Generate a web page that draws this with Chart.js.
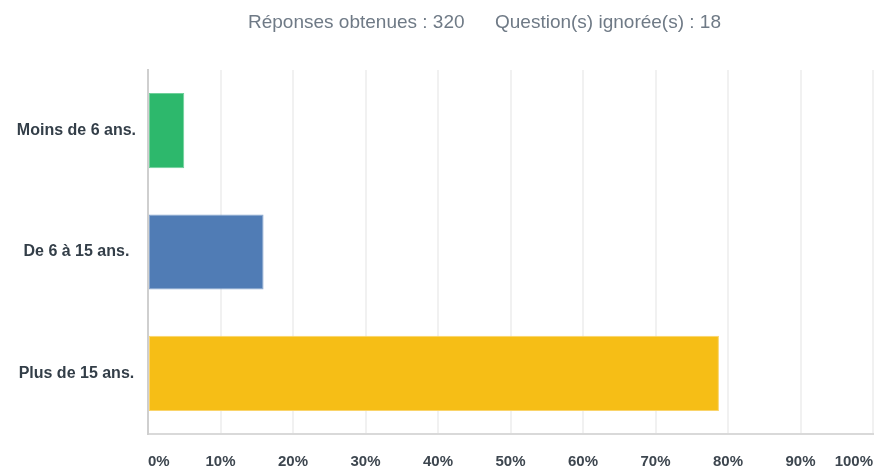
<!DOCTYPE html>
<html>
<head>
<meta charset="utf-8">
<script src="https://cdn.jsdelivr.net/npm/chart.js@4/dist/chart.umd.min.js"></script>
<style>
  html, body { margin: 0; padding: 0; background: #fff; overflow: hidden; }
  #wrap { position: relative; width: 874px; height: 469px; }
  .hdr { position: absolute; top: 12px; font: 19px "Liberation Sans", Arial, sans-serif; line-height: 19px; color: #6f7a86; white-space: nowrap; }
</style>
</head>
<body>
<div id="wrap">
  <span class="hdr" style="left:248px">Réponses obtenues : 320</span>
  <span class="hdr" style="left:495px">Question(s) ignorée(s) : 18</span>
  <canvas id="c" width="874" height="469"></canvas>
</div>
<script>
// Données (en %)
const categories = ['Moins de 6 ans.', 'De 6 à 15 ans.', 'Plus de 15 ans.'];
const values = [5.0, 15.94, 78.75];
const fills = ['#2db86c', '#507cb5', '#f6be16'];
const borders = ['#6fd09a', '#89a7cf', '#fad46a'];

new Chart(document.getElementById('c'), {
  type: 'bar',
  data: {
    labels: categories,
    datasets: [{
      data: values,
      backgroundColor: fills,
      borderColor: borders,
      borderWidth: 1,
      borderSkipped: false,
      categoryPercentage: 1,
      barPercentage: 0.62,
    }],
  },
  options: {
    indexAxis: 'y',
    responsive: false,
    animation: false,
    layout: { padding: { top: 70, right: 1, left: 0, bottom: 0 } },
    plugins: { legend: { display: false }, tooltip: { enabled: false } },
    scales: {
      x: {
        min: 0, max: 100,
        ticks: {
          stepSize: 10,
          align: 'inner',
          padding: 19,
          color: '#3d464f',
          font: { family: '"Liberation Sans", Arial, sans-serif', size: 15, weight: 'bold' },
          callback: (v) => v + '%',
        },
        grid: { color: '#f1f1f1', lineWidth: 2, drawTicks: false },
        border: { color: '#d9d9d9', width: 2 },
        // le dernier libellé est aligné à l'intérieur : pas de marge à droite
        afterFit: (s) => { s.height = 35; s.paddingRight = 0; },
      },
      y: {
        ticks: {
          crossAlign: 'center',
          padding: 12,
          color: '#333e48',
          font: { family: '"Liberation Sans", Arial, sans-serif', size: 16, weight: 'bold' },
        },
        grid: { display: false, drawTicks: false },
        border: { color: '#cfcfcf', width: 2 },
        afterFit: (s) => { s.width = 148; },
      },
    },
  },
});
</script>
</body>
</html>
